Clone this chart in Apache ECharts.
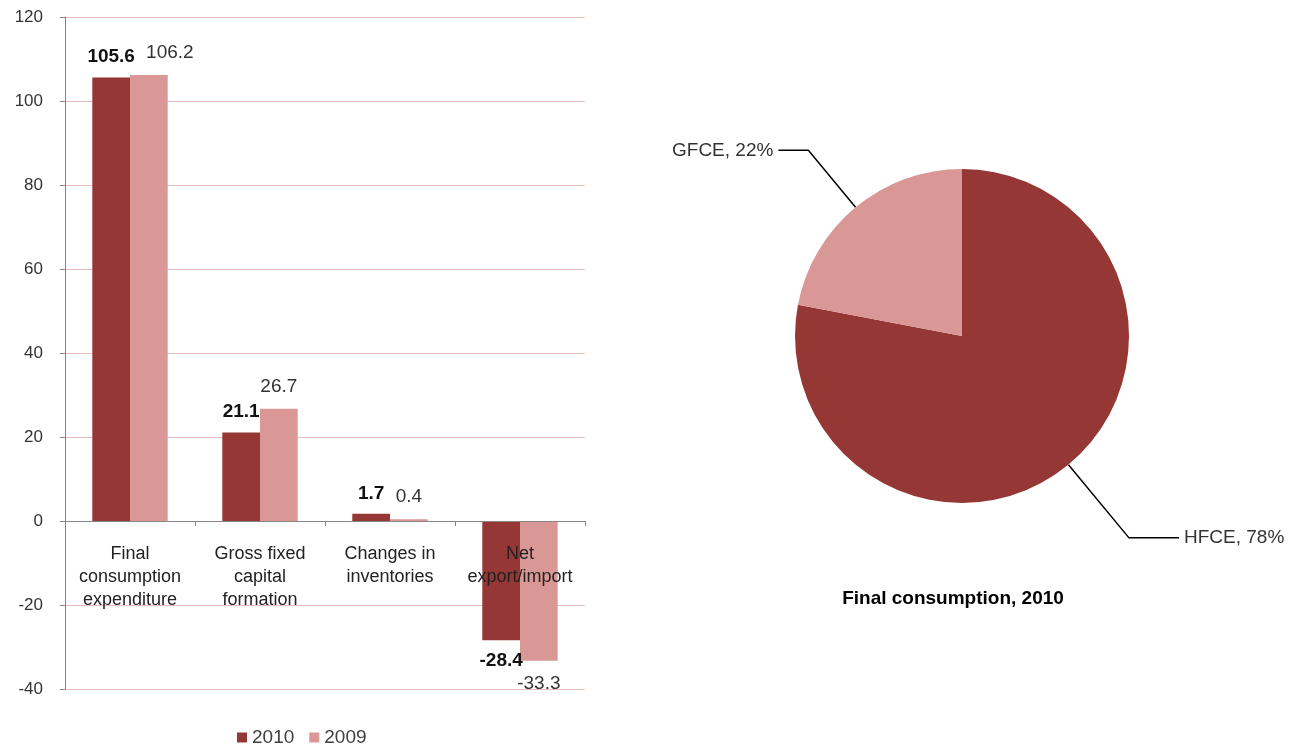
<!DOCTYPE html>
<html>
<head>
<meta charset="utf-8">
<script src="https://cdn.jsdelivr.net/npm/echarts@6/dist/echarts.min.js"></script>
<style>
  html, body { margin: 0; padding: 0; background: #fff; }
  #main { width: 1305px; height: 745px; }
</style>
</head>
<body>
<div id="main"></div>
<script>
// bar chart data
const categories = ['Final\nconsumption\nexpenditure', 'Gross fixed\ncapital\nformation', 'Changes in\ninventories', 'Net\nexport/import'];
const values2010 = [105.6, 21.1, 1.7, -28.4];
const values2009 = [106.2, 26.7, 0.4, -33.3];
const yTicks = [-40, -20, 0, 20, 40, 60, 80, 100, 120];

// pie data
const pieNames = ['HFCE', 'GFCE'];
const pieValues = [78, 22];

const dark = '#953735';
const light = '#D99795';

const gridTop = 17, gridBottom = 56, chartH = 745;
const yMin = yTicks[0], yMax = yTicks[yTicks.length - 1];
// push the category axis up to the zero line
const zeroOffset = -(0 - yMin) / (yMax - yMin) * (chartH - gridTop - gridBottom);

const chart = echarts.init(document.getElementById('main'));

function barData(arr, firstOffset) {
  return arr.map((v, i) => {
    const item = { value: v, label: {} };
    if (v < 0) item.label.position = 'bottom';
    if (i === 0 && firstOffset) item.label.offset = firstOffset;
    return item;
  });
}

let option = {
  animation: false,
  textStyle: { fontFamily: 'Liberation Sans, Arial, sans-serif' },
  title: {
    text: 'Final consumption, 2010',
    left: 948,
    top: 584,
    textAlign: 'center',
    textStyle: { fontSize: 19, fontWeight: 'bold', color: '#000' }
  },
  legend: {
    data: ['2010', '2009'],
    left: 237,
    top: 728,
    icon: 'rect',
    itemWidth: 10,
    itemHeight: 10,
    itemGap: 15,
    padding: 0,
    textStyle: { fontSize: 19, color: '#404040' }
  },
  grid: { left: 65, right: 720, top: gridTop, bottom: gridBottom, outerBoundsMode: 'none', containLabel: false },
  xAxis: {
    type: 'category',
    data: categories,
    z: 5,
    offset: zeroOffset,
    axisLine: { onZero: false, lineStyle: { color: '#868686' } },
    axisTick: { show: true, length: 5, lineStyle: { color: '#868686' } },
    axisLabel: { fontSize: 18, lineHeight: 23, color: '#222', margin: 22, interval: 0 }
  },
  yAxis: {
    type: 'value',
    min: yMin,
    max: yMax,
    interval: 20,
    axisLine: { show: true, lineStyle: { color: '#868686' } },
    axisTick: { show: true, length: 5, lineStyle: { color: '#868686' } },
    axisLabel: { fontSize: 17, color: '#333', margin: 22 },
    splitLine: { lineStyle: { color: '#E9BDBD', width: 1 } }
  },
  series: [
    {
      name: '2010',
      type: 'bar',
      data: barData(values2010),
      barGap: '0%',
      barCategoryGap: '42%',
      itemStyle: { color: dark },
      label: {
        show: true,
        position: 'top',
        fontSize: 19,
        fontWeight: 'bold',
        color: '#111',
        distance: 11
      }
    },
    {
      name: '2009',
      type: 'bar',
      data: barData(values2009, [21, 0]),
      itemStyle: { color: light },
      label: {
        show: true,
        position: 'top',
        fontSize: 19,
        color: '#333',
        distance: 13
      }
    },
    {
      name: 'Final consumption',
      type: 'pie',
      center: [962, 336],
      radius: 167,
      startAngle: 90,
      clockwise: true,
      data: pieNames.map((n, i) => ({
        name: n,
        value: pieValues[i],
        itemStyle: { color: i === 0 ? dark : light },
        labelLine: i === 0 ? { length: 95, length2: 50 } : { length: 74, length2: 30 }
      })),
      label: {
        show: true,
        formatter: '{b}, {d}%',
        fontSize: 19,
        color: '#333'
      },
      labelLine: {
        show: true,
        lineStyle: { color: '#000', width: 1.5 }
      },
      emphasis: { disabled: true }
    }
  ]
};
chart.setOption(option);
</script>
</body>
</html>
